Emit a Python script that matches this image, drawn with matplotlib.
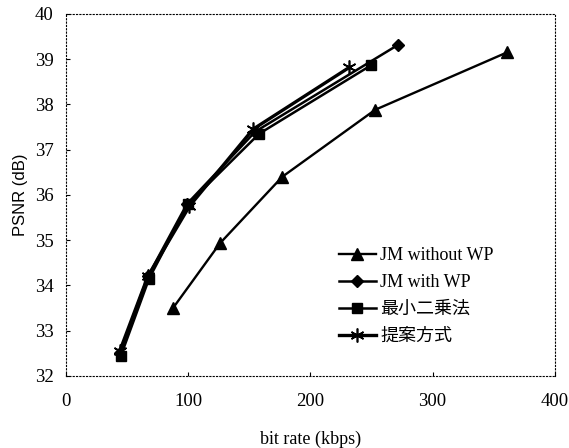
import numpy as np
import matplotlib
matplotlib.use("Agg")
import matplotlib.pyplot as plt

plt.rcParams['font.family'] = ['Liberation Serif', 'Noto Sans CJK JP', 'DejaVu Sans']

labels = ["JM without WP", "JM with WP", "最小二乗法", "提案方式"]

rate_nowp = [87.6, 126, 177, 253, 361]
psnr_nowp = [33.5, 34.93, 36.4, 37.88, 39.15]

rate_wp = [44, 67, 99, 155, 272]
psnr_wp = [32.5, 34.2, 35.8, 37.4, 39.32]

rate_ls = [45, 68, 100, 158, 250]
psnr_ls = [32.45, 34.15, 35.8, 37.35, 38.87]

rate_prop = [44, 67, 101, 153, 232]
psnr_prop = [32.55, 34.2, 35.75, 37.45, 38.82]

fig = plt.figure(figsize=(5.69, 4.48), dpi=100)
ax = fig.add_axes([0.116, 0.161, 0.859, 0.808])

ax.plot(rate_nowp, psnr_nowp, color='black', lw=1.7, marker='^', ms=8, label=labels[0])
ax.plot(rate_wp, psnr_wp, color='black', lw=1.8, marker='D', ms=6, label=labels[1])
ax.plot(rate_ls, psnr_ls, color='black', lw=1.8, marker='s', ms=7.5, label=labels[2])
ax.plot(rate_prop, psnr_prop, color='black', lw=2.4, marker=(6, 2, 0), ms=10, mew=1.2, label=labels[3])

ax.set_xlim(0, 400)
ax.set_ylim(32, 40)
ax.set_xticks(np.arange(0, 401, 100))
ax.set_yticks(np.arange(32, 41, 1))
ax.tick_params(direction='in', length=3, width=0.8, labelsize=13.5, pad=12)
ax.tick_params(axis='y', pad=9)

for s in ax.spines.values():
    s.set_linestyle((0, (1, 2)))
    s.set_linewidth(0.8)

ax.set_xlabel("bit rate (kbps)", fontsize=13, labelpad=15)
ax.set_ylabel("PSNR (dB)", fontsize=12, family=['Liberation Sans'], labelpad=5)

leg = ax.legend(loc='lower right', bbox_to_anchor=(0.908, 0.04), frameon=False,
                fontsize=13, handlelength=2.1, handletextpad=0.2, labelspacing=0.55)

fig.savefig("out.png", dpi=100)
